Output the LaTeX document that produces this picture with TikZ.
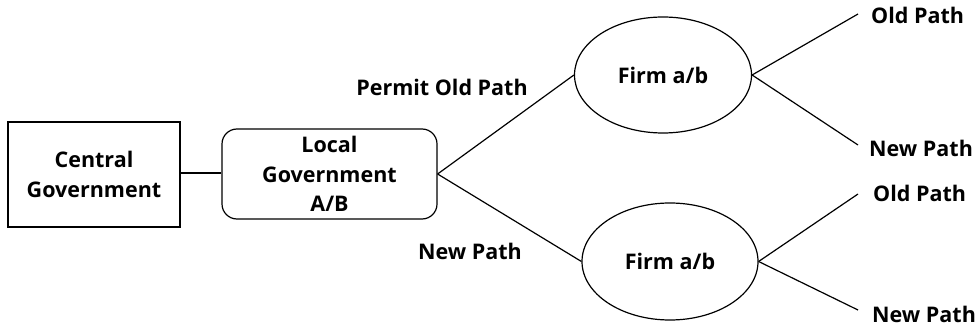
\documentclass[tikz,border=0pt]{standalone}
\usepackage{fontspec}
\setmainfont{Open Sans}
\usetikzlibrary{shapes.geometric}
\tikzset{
  base/.style={font=\fontsize{21.5}{29.5}\selectfont\bfseries, align=center, inner sep=0pt},
  govbox/.style={base, draw, line width=1.2pt},
  firm/.style={base, draw, ellipse, line width=1.2pt},
  lbl/.style={base},
  link/.style={line width=1.2pt},
}
\begin{document}
\begin{tikzpicture}[x=1pt, y=-1pt]
  \useasboundingbox (0,0) rectangle (979,328);
  % government levels
  \node[govbox, minimum width=172pt, minimum height=105pt] (central) at (94,174.5) {Central\\Government};
  \node[govbox, rounded corners=15pt, minimum width=215pt, minimum height=90pt] (local) at (329.5,174) {Local\\Government\\A/B};
  % firms
  \node[firm, minimum width=177pt, minimum height=116pt] (firmA) at (663,75) {Firm a/b};
  \node[firm, minimum width=176pt, minimum height=117pt] (firmB) at (670,261.5) {Firm a/b};
  % outcome ends
  \coordinate (a1) at (858,14);
  \coordinate (a2) at (858,145);
  \coordinate (b1) at (858,194);
  \coordinate (b2) at (858,310);
  % connectors
  \draw[link] (central.east |- 0,173) -- (local.west |- 0,173);
  \draw[link] (local.east) -- (firmA.west);
  \draw[link] (local.east) -- (firmB.west);
  \draw[link] (firmA.east) -- (a1);
  \draw[link] (firmA.east) -- (a2);
  \draw[link] (firmB.east) -- (b1);
  \draw[link] (firmB.east) -- (b2);
  % labels
  \node[lbl] (permit) at (442,87) {Permit Old Path};
  \node[lbl] (newp) at (470,251) {New Path};
  \node[lbl, anchor=west] (la1) at (871,15) {Old Path};
  \node[lbl, anchor=west] (la2) at (869,148) {New Path};
  \node[lbl, anchor=west] (lb1) at (873,193) {Old Path};
  \node[lbl, anchor=west] (lb2) at (872,314) {New Path};
\end{tikzpicture}
\end{document}
